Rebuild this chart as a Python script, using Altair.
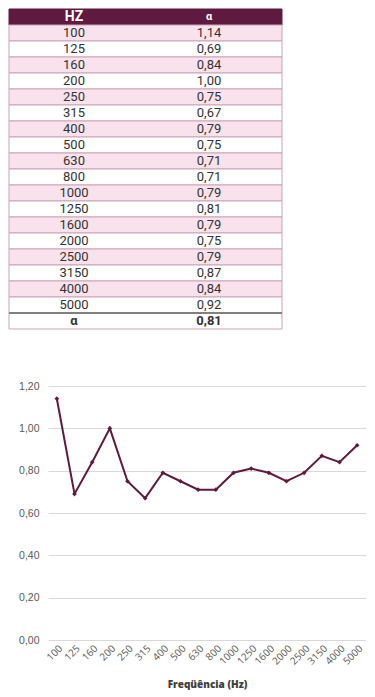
import altair as alt
import pandas as pd

# ---- data ----
hz = ["100", "125", "160", "200", "250", "315", "400", "500", "630", "800",
      "1000", "1250", "1600", "2000", "2500", "3150", "4000", "5000"]
alpha = [1.14, 0.69, 0.84, 1.00, 0.75, 0.67, 0.79, 0.75, 0.71, 0.71,
         0.79, 0.81, 0.79, 0.75, 0.79, 0.87, 0.84, 0.92]
mean_alpha = 0.81
header = ["HZ", "α"]
footer_label = "α"
y_ticks = [0, 0.2, 0.4, 0.6, 0.8, 1.0, 1.2]


def fmt(v):
    return f"{v:.2f}".replace(".", ",")


# ---- styling ----
MAROON = "#5e1a3f"
PINK = "#f9e2ec"
BORDER = "#c9a3b9"
AXIS_EXT = 39          # width of the line chart's y-axis area
X0 = -AXIS_EXT         # table left edge, relative to the aligned origin
X1 = 234               # table right edge, relative to the aligned origin
TEXT_RANGE = [-41.5, 228.5]   # column text band range
ROW_H = 16
n_rows = len(hz) + 2
H_TABLE = ROW_H * n_rows

rows_df = pd.DataFrame({
    "row": list(range(n_rows)),
    "kind": ["header"] + ["pink" if i % 2 == 0 else "white" for i in range(len(hz))] + ["white"],
})
header_df = pd.DataFrame({"row": [0, 0], "col": ["c1", "c2"], "label": header})
body_df = pd.DataFrame({
    "row": list(range(1, len(hz) + 1)) * 2,
    "col": ["c1"] * len(hz) + ["c2"] * len(hz),
    "label": hz + [fmt(v) for v in alpha],
})
footer_df = pd.DataFrame({"row": [n_rows - 1, n_rows - 1], "col": ["c1", "c2"],
                          "label": [footer_label, fmt(mean_alpha)]})
sep_df = pd.DataFrame({"row": [n_rows - 1]})

yscale = alt.Scale(domain=list(range(n_rows)), paddingInner=0, paddingOuter=0)
yenc = alt.Y("row:O", scale=yscale, axis=None)
xenc = alt.X("col:N", scale=alt.Scale(domain=["c1", "c2"], range=TEXT_RANGE,
                                      paddingInner=0, paddingOuter=0), axis=None)

rects = alt.Chart(rows_df).mark_rect(strokeWidth=1).encode(
    y=yenc,
    x=alt.value(X0),
    x2=alt.value(X1),
    color=alt.Color("kind:N", scale=alt.Scale(domain=["header", "pink", "white"],
                                              range=[MAROON, PINK, "#ffffff"]), legend=None),
    stroke=alt.condition("datum.kind == 'header'", alt.value(MAROON), alt.value(BORDER)),
)

sep = alt.Chart(sep_df).mark_rule(color="#808080", strokeWidth=2).encode(
    y=alt.Y("row:O", scale=yscale, axis=None, bandPosition=0),
    x=alt.value(X0),
    x2=alt.value(X1),
)

head_text1 = alt.Chart(header_df).transform_filter("datum.col == 'c1'").mark_text(
    font="Roboto", fontSize=14, fontWeight="bold", color="white", baseline="middle"
).encode(x=xenc, y=yenc, text="label:N")

head_text2 = alt.Chart(header_df).transform_filter("datum.col == 'c2'").mark_text(
    font="Roboto", fontSize=11, fontWeight="bold", color="white", baseline="middle"
).encode(x=xenc, y=yenc, text="label:N")

body_text = alt.Chart(body_df).mark_text(
    font="Roboto", fontSize=13, color="#333333", baseline="middle"
).encode(x=xenc, y=yenc, text="label:N")

foot_text = alt.Chart(footer_df).mark_text(
    font="Roboto", fontSize=13, fontWeight="bold", color="#333333", baseline="middle"
).encode(x=xenc, y=yenc, text="label:N")

table = alt.layer(rects, sep, head_text1, head_text2, body_text, foot_text).properties(
    width=X1, height=H_TABLE
)

# ---- line chart ----
line_df = pd.DataFrame({"hz": hz, "alpha": alpha})

line = alt.Chart(line_df).mark_line(
    color=MAROON, strokeWidth=2,
    point=alt.OverlayMarkDef(shape="diamond", size=22, filled=True, color=MAROON),
).encode(
    x=alt.X("hz:N", sort=hz, axis=alt.Axis(
        title="Freqüência (Hz)", labelAngle=-45, labelFontSize=10, labelFont="Open Sans",
        labelColor="#595959", labelPadding=3, domain=False, ticks=False, grid=False,
        titleFont="Open Sans", titleFontSize=10, titleFontWeight=800, titleColor="#404040",
        titlePadding=13,
    )),
    y=alt.Y("alpha:Q", scale=alt.Scale(domain=[0, 1.2], nice=False), axis=alt.Axis(
        values=y_ticks, labelExpr="replace(format(datum.value, '.2f'), '.', ',')",
        title=None, grid=True, gridColor="#d9d9d9", domain=False, ticks=False,
        labelFont="Liberation Sans", labelFontSize=10.5, labelColor="#595959",
        labelPadding=9, minExtent=AXIS_EXT, maxExtent=AXIS_EXT,
    )),
).properties(width=318, height=254)

chart = alt.vconcat(table, line, spacing=51).properties(padding=0).configure_view(stroke=None)

chart.save("out.html", embed_options={"renderer": "svg", "actions": False})
